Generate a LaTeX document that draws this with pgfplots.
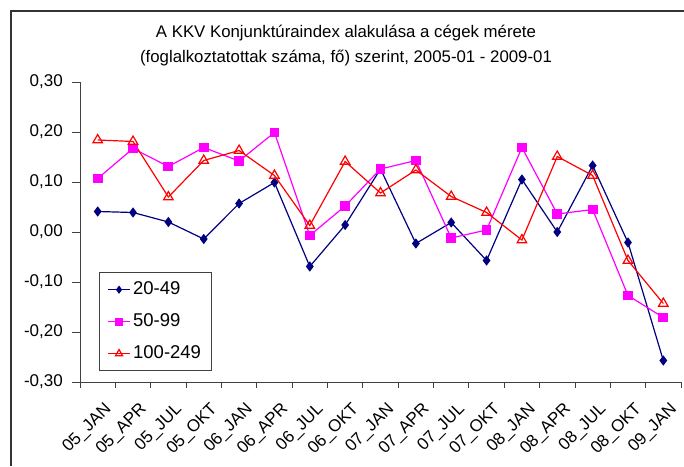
\documentclass[border=0pt]{standalone}
\usepackage{pgfplots}
\pgfplotsset{compat=1.18}
\usepackage{fontspec}
\setmainfont{Liberation Sans}
\definecolor{sNavy}{RGB}{0,0,128}
\definecolor{sMag}{RGB}{255,0,255}
\definecolor{sRed}{RGB}{255,0,0}
\newcommand{\tfont}{\fontsize{16.8}{19}\selectfont}
\newcommand{\cfont}{\fontsize{17}{20}\selectfont}
\newcommand{\lfont}{\fontsize{18.5}{21}\selectfont}
\pgfplotstableread{
x   a       b       c
0.5   0.041   0.107   0.184
1.5   0.039   0.167   0.181
2.5   0.020   0.131   0.070
3.5  -0.014   0.169   0.143
4.5   0.057   0.142   0.163
5.5   0.099   0.199   0.113
6.5  -0.069  -0.007   0.013
7.5   0.014   0.052   0.141
8.5   0.126   0.126   0.078
9.5  -0.023   0.143   0.124
10.5  0.019  -0.012   0.071
11.5 -0.057   0.004   0.039
12.5  0.105   0.169  -0.016
13.5  0.000   0.036   0.151
14.5  0.133   0.045   0.113
15.5 -0.021  -0.127  -0.057
16.5 -0.257  -0.171  -0.143
}\datatable
\begin{document}
\begin{tikzpicture}[x=1pt,y=1pt]
\useasboundingbox (0,0) rectangle (684,466);
\draw[line width=1.3pt, black!80] (11,0) -- (11,455) -- (684,455);
\node[font=\tfont, anchor=base] at (346,428) {A KKV Konjunktúraindex alakulása a cégek mérete};
\node[font=\tfont, anchor=base] at (346,403.5) {(foglalkoztatottak száma, fő) szerint, 2005-01 - 2009-01};
\begin{axis}[
  at={(80pt,84pt)}, anchor=south west,
  scale only axis, width=601pt, height=300pt,
  xmin=0, xmax=17, ymin=-0.3, ymax=0.3,
  axis lines=left, axis line style={-, line width=0.9pt, black!75},
  xtick={0.5,1.5,...,16.5},
  xticklabels={05\_JAN,05\_APR,05\_JUL,05\_OKT,06\_JAN,06\_APR,06\_JUL,06\_OKT,07\_JAN,07\_APR,07\_JUL,07\_OKT,08\_JAN,08\_APR,08\_JUL,08\_OKT,09\_JAN},
  major x tick style={draw=none},
  minor xtick={0,1,...,17},
  ytick={-0.3,-0.2,...,0.31},
  tick align=outside,
  major tick length=8pt, minor tick length=6pt,
  tick style={line width=0.9pt, black!75},
  xticklabel style={font=\cfont, rotate=45, anchor=north east, xshift=-3pt, yshift=-11pt, inner sep=1pt},
  yticklabel style={font=\cfont, inner sep=1pt, xshift=-8pt},
  /pgf/number format/.cd, fixed, fixed zerofill, precision=2, use comma, assume math mode=true,
  /pgfplots/.cd,
  legend style={font=\lfont, at={(0.0316,0.3667)}, anchor=north west,
     draw=black!75, line width=0.9pt, inner xsep=8pt, inner ysep=6pt, row sep=9.5pt,
     nodes={inner sep=2.5pt, text height=13.5pt, text depth=4pt}},
  legend cell align=left,
  legend image code/.code={\draw[mark repeat=2,mark phase=2, every mark/.append style={scale=0.75}] plot coordinates {(0pt,0pt) (11pt,0pt) (22pt,0pt)};},
]
\addplot[sNavy, line width=1.2pt, mark=diamond*, mark size=4.2pt, mark options={solid}] table[x=x,y=a] {\datatable};
\addlegendentry{20-49}
\addplot[sMag, line width=1.2pt, mark=square*, mark size=4.3pt, mark options={solid}] table[x=x,y=b] {\datatable};
\addlegendentry{50-99}
\addplot[sRed, line width=1.2pt, mark=triangle, mark size=5.5pt, mark options={solid, fill=white}] table[x=x,y=c] {\datatable};
\addlegendentry{100-249}
\end{axis}
\end{tikzpicture}
\end{document}
